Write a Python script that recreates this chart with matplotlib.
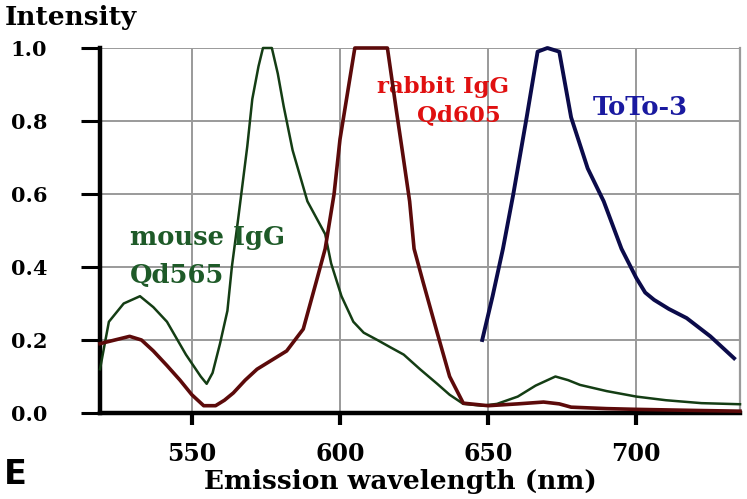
import numpy as np
import matplotlib
matplotlib.use('Agg')
import matplotlib.pyplot as plt

# emission spectra
green_wl = [519, 522, 527, 532.5, 537, 541.6, 548, 553, 555, 557, 559.5, 562, 563.5, 565.6,
            568.7, 570.4, 572.5, 574, 577, 579, 581, 584, 589, 595, 597, 600.5, 604.5, 608,
            612.6, 617, 621.5, 627, 632.8, 637, 641.6, 648, 653, 660, 666, 672.7, 677, 681,
            690, 700, 710, 722, 735]
green_int = [0.12, 0.25, 0.30, 0.32, 0.29, 0.25, 0.16, 0.10, 0.08, 0.11, 0.19, 0.28, 0.40, 0.53,
             0.73, 0.86, 0.95, 1.0, 1.0, 0.93, 0.84, 0.72, 0.58, 0.49, 0.41, 0.32, 0.25, 0.22,
             0.20, 0.18, 0.16, 0.12, 0.08, 0.05, 0.025, 0.02, 0.025, 0.045, 0.075, 0.10, 0.09, 0.077,
             0.06, 0.045, 0.035, 0.027, 0.024]

red_wl = [519, 524, 529, 533, 537, 541.6, 546, 550, 554, 558, 561, 564, 568, 572, 577, 582,
          587.6, 592, 595, 598, 600, 603, 605, 616, 619, 621, 623.5, 625, 628, 632.8, 637,
          641.6, 650, 660, 668.7, 674, 678, 690, 700, 720, 735]
red_int = [0.19, 0.20, 0.21, 0.20, 0.17, 0.13, 0.09, 0.05, 0.02, 0.02, 0.035, 0.055, 0.09, 0.12,
           0.145, 0.17, 0.23, 0.36, 0.45, 0.60, 0.75, 0.90, 1.0, 1.0, 0.83, 0.72, 0.58, 0.45,
           0.36, 0.22, 0.10, 0.027, 0.02, 0.025, 0.03, 0.025, 0.016, 0.012, 0.01, 0.007, 0.005]

blue_wl = [648, 651.5, 655, 658.5, 663, 666.7, 670, 674, 678, 683.6, 689, 695, 700, 703, 706,
           711, 717, 725, 733]
blue_int = [0.20, 0.32, 0.45, 0.60, 0.81, 0.99, 1.0, 0.99, 0.81, 0.67, 0.58, 0.45, 0.37, 0.33,
            0.31, 0.285, 0.26, 0.21, 0.15]

x_ticks = [550, 600, 650, 700]
y_ticks = [0.0, 0.2, 0.4, 0.6, 0.8, 1.0]

serif = 'DejaVu Serif'

fig = plt.figure(figsize=(7.47, 4.99), dpi=100)
ax = fig.add_axes([100/747, 86/499, 640/747, 365/499])

ax.plot(green_wl, green_int, color='#143d14', lw=1.8, clip_on=False, zorder=3)
ax.plot(red_wl, red_int, color='#5c0a0a', lw=2.6, clip_on=False, zorder=4)
ax.plot(blue_wl, blue_int, color='#0b0b4a', lw=2.8, clip_on=False, zorder=4)

ax.set_xlim(519, 735)
ax.set_ylim(0, 1.0)
ax.set_xticks(x_ticks)
ax.set_yticks(y_ticks)
ax.set_yticklabels(['%.1f' % v for v in y_ticks])

ax.grid(True, color='#9a9a9a', lw=1.4)
ax.set_axisbelow(True)
ax.spines['top'].set_visible(False)
ax.spines['right'].set_color('#9a9a9a')
ax.spines['right'].set_linewidth(1.6)
ax.spines['left'].set_linewidth(3.2)
ax.spines['bottom'].set_linewidth(3.2)

ax.tick_params(axis='y', length=14, width=2.2, pad=24, labelsize=15)
ax.tick_params(axis='x', length=8.6, width=3, pad=12, labelsize=17)
for lab in ax.get_xticklabels() + ax.get_yticklabels():
    lab.set_family(serif)
    lab.set_fontweight('bold')

ax.set_xlabel('Emission wavelength (nm)', family=serif, fontweight='bold', fontsize=19)
ax.xaxis.set_label_coords(300/640, -(482 - 413)/365, transform=ax.transAxes)
ax.xaxis.label.set_va('center')

fig.text(0.007, 1 - 18/499, 'Intensity', family=serif, fontweight='bold', fontsize=19, va='center')
fig.text(0.005, 1 - 474/499, 'E', family='DejaVu Sans', fontweight='bold', fontsize=24, va='center')

lab_size = 18.5
ax.text(529.1, 0.482, 'mouse IgG', color='#1e5a28', family=serif, fontweight='bold', fontsize=lab_size, va='center')
ax.text(529.1, 0.378, 'Qd565', color='#1e5a28', family=serif, fontweight='bold', fontsize=lab_size, va='center')
ax.text(634.9, 0.893, 'rabbit IgG', color='#e01010', family=serif, fontweight='bold', fontsize=16.5,
        va='center', ha='center')
ax.text(640, 0.815, 'Qd605', color='#e01010', family=serif, fontweight='bold', fontsize=16.5,
        va='center', ha='center')
ax.text(685.2, 0.836, 'ToTo-3', color='#1a1aa0', family=serif, fontweight='bold', fontsize=lab_size, va='center')

fig.savefig('out.png', dpi=100)
